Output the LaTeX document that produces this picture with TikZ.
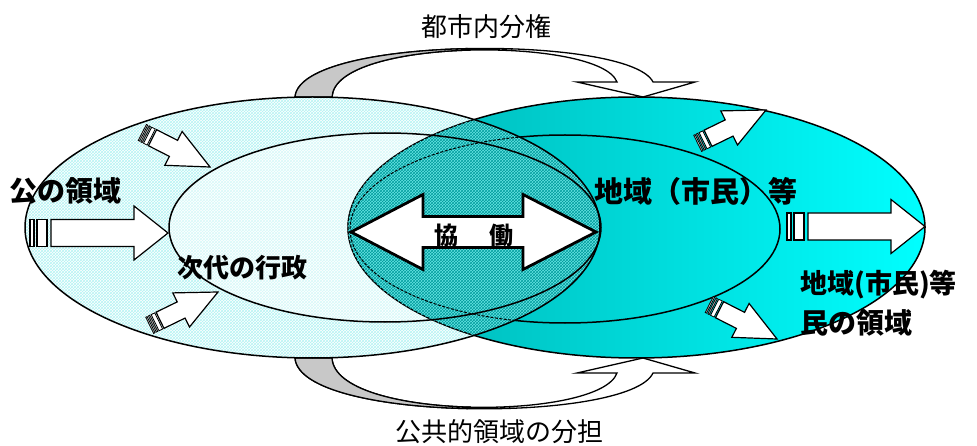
\documentclass[tikz,border=0pt]{standalone}
\usepackage{fontspec}
\setmainfont{Noto Sans CJK JP}
\usetikzlibrary{patterns}
\definecolor{hatchc}{HTML}{B4F4F4}
\definecolor{hatchi}{HTML}{D6F9F9}
\definecolor{tealL}{HTML}{00B2B2}
\definecolor{cyanR}{HTML}{00FFFF}
\definecolor{lensbg}{HTML}{66E4E4}
\definecolor{lensfg}{HTML}{009C9C}
\definecolor{ribgray}{HTML}{C8C8C8}
\newcommand\bigarr[3]{%
 \begin{scope}[shift={(#1,#2)}, rotate=#3]
  \draw[blk] (0,0) -- (-34,-27) -- (-34,-13.5) -- (-117,-13.5) -- (-117,13.5) -- (-34,13.5) -- (-34,27) -- cycle;
  \draw[blk] (-138,-13.5) rectangle (-134,13.5);
  \draw[blk] (-131,-13.5) rectangle (-121,13.5);
 \end{scope}}
\newcommand\smlarr[3]{%
 \begin{scope}[shift={(#1,#2)}, rotate=#3]
  \draw[blk] (0,0) -- (-41,-19) -- (-41,-9) -- (-64.5,-9) -- (-64.5,9) -- (-41,9) -- (-41,19) -- cycle;
  \draw[blk,line width=0.8pt] (-76,-9) rectangle (-74.5,9) (-73,-9) rectangle (-71.5,9) (-70,-9) rectangle (-66,9);
 \end{scope}}
\begin{document}
\begin{tikzpicture}[x=1pt,y=-1pt,line join=miter,
  outl/.style={draw=black,line width=1.5pt},
  lbl/.style={inner sep=0pt,font=\fontsize{26}{30}\selectfont},
  blbl/.style={inner sep=0pt,font=\bfseries},
  blk/.style={fill=white,draw=black,line width=1.2pt}]
\path[use as bounding box] (0,0) rectangle (977,446);
% top ribbon
\draw[fill=white,line width=1.3pt] (295,97) .. controls (300,35) and (630,35) .. (653,82)
  -- (695,82) -- (643,97) -- (577,82) -- (617,82)
  .. controls (600,37) and (335,37) .. (332,97) -- cycle;
\draw[fill=ribgray,line width=1.3pt] (295,97) .. controls (297.5,66) and (381.25,50.5) .. (467.25,48.6)
  -- (469.25,50.1) .. controls (400.5,52) and (333.5,67) .. (332,97) -- cycle;
% bottom ribbon
\draw[fill=white,line width=1.3pt] (295,358) .. controls (300,423) and (630,423) .. (653,373)
  -- (695,373) -- (643,358) -- (577,373) -- (617,373)
  .. controls (600,421) and (335,421) .. (332,358) -- cycle;
\draw[fill=ribgray,line width=1.3pt] (295,358) .. controls (297.5,390.5) and (381.25,406.75) .. (467.25,408.6)
  -- (469.25,407.1) .. controls (400.5,405.25) and (333.5,389.5) .. (332,358) -- cycle;
% left big ellipse
\fill[white] (312.5,227.5) ellipse [x radius=287.5, y radius=130.5];
\fill[pattern=crosshatch,pattern color=hatchc] (312.5,227.5) ellipse [x radius=287.5, y radius=130.5];
% left inner ellipse
\fill[white] (385,227.5) ellipse [x radius=216, y radius=94.5];
\fill[pattern=crosshatch,pattern color=hatchi] (385,227.5) ellipse [x radius=216, y radius=94.5];
% right big ellipse
\shade[left color=tealL,right color=cyanR] (636.5,227.5) ellipse [x radius=288.5, y radius=130.5];
\draw[outl] (636.5,227.5) ellipse [x radius=288.5, y radius=130.5];
\draw[outl] (565,229) ellipse [x radius=215, y radius=94];
% lens
\begin{scope}
 \clip (312.5,227.5) ellipse [x radius=287.5, y radius=130.5];
 \fill[lensbg] (636.5,227.5) ellipse [x radius=288.5, y radius=130.5];
 \fill[pattern=crosshatch,pattern color=lensfg] (636.5,227.5) ellipse [x radius=288.5, y radius=130.5];
 \draw[line width=1pt,dash pattern=on 3pt off 1.5pt] (636.5,227.5) ellipse [x radius=288.5, y radius=130.5];
 \draw[line width=1pt,dash pattern=on 3pt off 1.5pt] (565,229) ellipse [x radius=215, y radius=94];
\end{scope}
\draw[outl] (312.5,227.5) ellipse [x radius=287.5, y radius=130.5];
\draw[outl] (385,227.5) ellipse [x radius=216, y radius=94.5];
% block arrows
\bigarr{168}{233}{0}
\bigarr{925}{226.5}{0}
\smlarr{210}{167}{-27}
\smlarr{218}{292}{26}
\smlarr{766}{110}{26}
\smlarr{777}{339}{-27}
% double arrow
\draw[fill=white,line width=2.8pt] (351,232) -- (423,194.5) -- (423,216.5) -- (523,216.5) -- (523,194.5)
  -- (596,232) -- (523,269.5) -- (523,247.5) -- (423,247.5) -- (423,269.5) -- cycle;
% texts
\node[lbl] (t1) at (486,27) {都市内分権};
\node[lbl] (t2) at (499,432) {公共的領域の分担};
\node[blbl,font=\fontsize{28}{32}\selectfont\bfseries,anchor=west] (t3) at (9,191) {公の領域};
\node[blbl,font=\fontsize{26}{30}\selectfont\bfseries,anchor=west] (t4) at (177,268) {次代の行政};
\node[blbl,font=\fontsize{29}{33}\selectfont\bfseries,anchor=west] (t5) at (594,191) {地域（市民）等};
\node[blbl,font=\fontsize{27}{31}\selectfont\bfseries,anchor=west] (t6) at (800,285) {地域(市民)等};
\node[blbl,font=\fontsize{28}{32}\selectfont\bfseries,anchor=west] (t7) at (800,323) {民の領域};
\node[blbl,font=\fontsize{24}{28}\selectfont\bfseries] (t8) at (474,235) {協\hspace{31pt}働};
\end{tikzpicture}
\end{document}
